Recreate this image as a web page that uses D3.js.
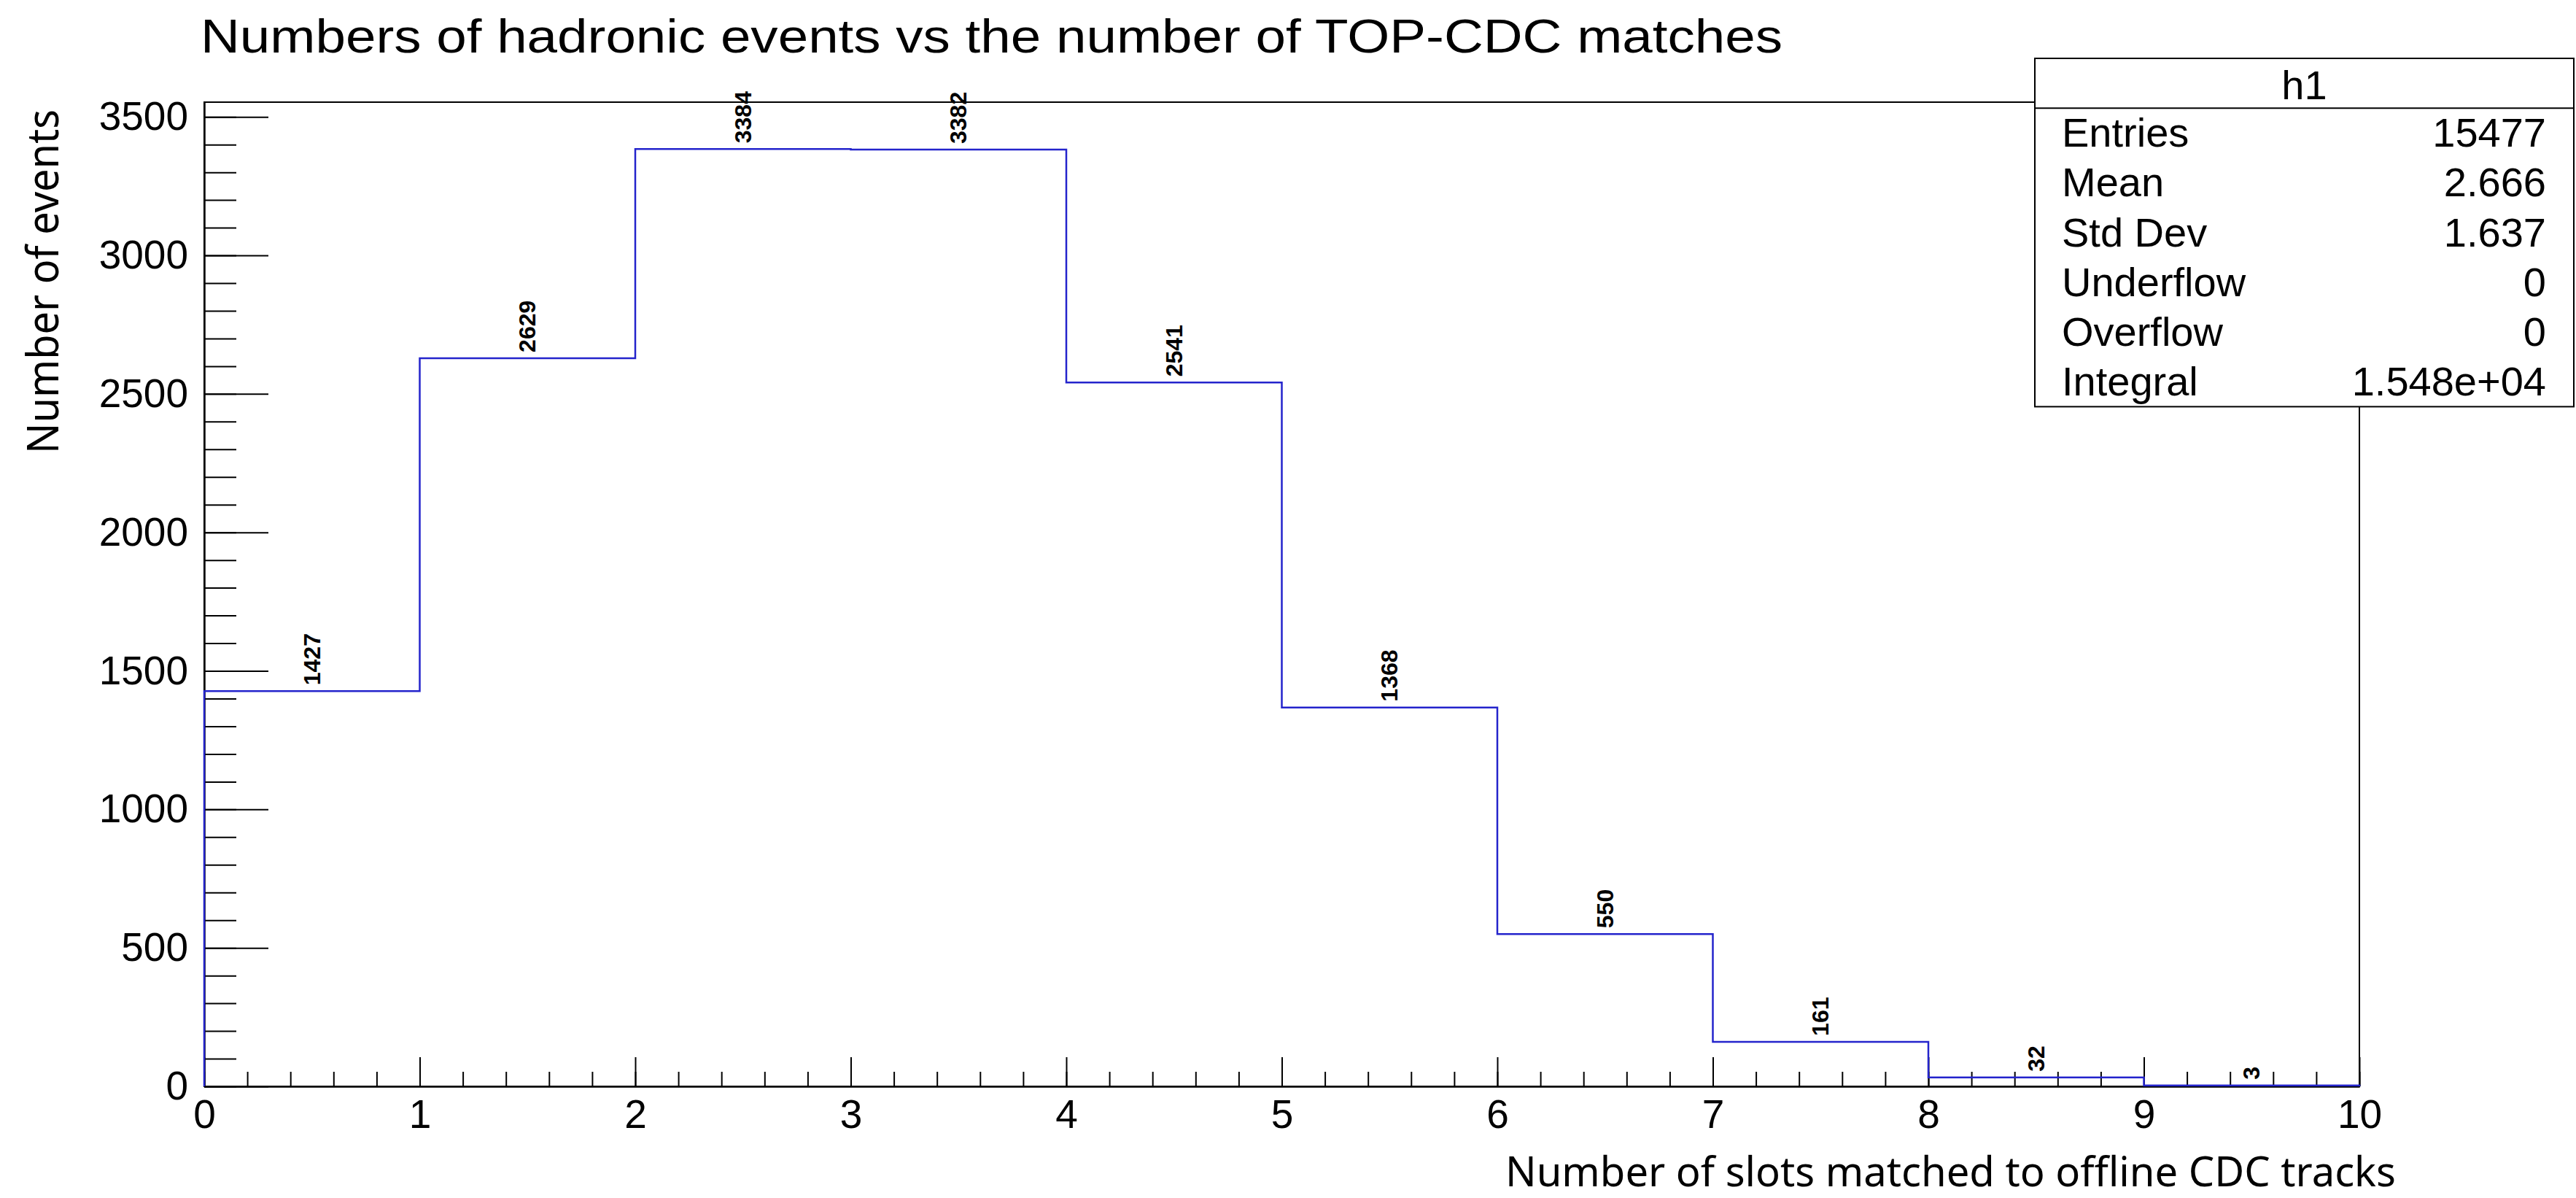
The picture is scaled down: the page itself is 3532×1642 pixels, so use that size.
<!DOCTYPE html>
<html>
<head>
<meta charset="utf-8">
<script src="https://cdn.jsdelivr.net/npm/d3@7"></script>
<style>
  body { margin: 0; background: #fff; }
  svg { display: block; }
</style>
</head>
<body>
<svg id="h1-canvas" width="3532" height="1642"></svg>
<script>
// bin edges are 0..10, one bin per number of matched slots
const binLow = [0, 1, 2, 3, 4, 5, 6, 7, 8, 9];
const binCounts = [1427, 2629, 3384, 3382, 2541, 1368, 550, 161, 32, 3];
const xMajorTicks = [0, 1, 2, 3, 4, 5, 6, 7, 8, 9, 10];
const yMajorTicks = [0, 500, 1000, 1500, 2000, 2500, 3000, 3500];
const statNames = ['Entries', 'Mean', 'Std Dev', 'Underflow', 'Overflow', 'Integral'];
const statValues = ['15477', '2.666', '1.637', '0', '0', '1.548e+04'];

const rootFont = '"Liberation Sans", Arial, Helvetica, sans-serif';
const titleFont = '"Noto Sans", "Open Sans", sans-serif';

var svg = d3.select('#h1-canvas');

// frame is x 280..3235, y 140..1489 ; y max is 1.05 * highest bin like ROOT does
var x = d3.scaleLinear().domain([0, 10]).range([280, 3235]);
var y = d3.scaleLinear().domain([0, d3.max(binCounts) * 1.05]).range([1489, 140]);

// title
svg.append('text')
    .attr('x', 275)
    .attr('y', 72)
    .attr('textLength', 2169)
    .attr('lengthAdjust', 'spacingAndGlyphs')
    .style('font', '65px ' + rootFont)
    .text('Numbers of hadronic events vs the number of TOP-CDC matches');

// frame
svg.append('rect')
    .attr('x', x(0)).attr('y', y.range()[1])
    .attr('width', x(10) - x(0)).attr('height', y(0) - y.range()[1])
    .attr('fill', 'none').attr('stroke', '#000').attr('stroke-width', 2);

// minor ticks first, then major ones with labels
var xMinor = d3.range(0, 10.01, 0.2);
var yMinor = d3.range(0, 3501, 100);

svg.append('g')
    .attr('transform', 'translate(0,' + y(0) + ')')
    .call(d3.axisBottom(x).tickValues(xMinor).tickSize(-20).tickSizeOuter(0).tickFormat(''));
svg.append('g')
    .attr('class', 'xaxis')
    .attr('transform', 'translate(0,' + y(0) + ')')
    .call(d3.axisBottom(x).tickValues(xMajorTicks).tickSize(-40).tickSizeOuter(0).tickPadding(18).tickFormat(d3.format('d')));

svg.append('g')
    .attr('transform', 'translate(' + x(0) + ',0)')
    .call(d3.axisLeft(y).tickValues(yMinor).tickSize(-44).tickSizeOuter(0).tickFormat(''));
svg.append('g')
    .attr('class', 'yaxis')
    .attr('transform', 'translate(' + x(0) + ',0)')
    .call(d3.axisLeft(y).tickValues(yMajorTicks).tickSize(-88).tickSizeOuter(0).tickPadding(22).tickFormat(d3.format('d')));

svg.selectAll('.domain, .tick line').attr('stroke', '#000').attr('stroke-width', 2);
svg.selectAll('.xaxis text, .yaxis text')
    .attr('fill', '#000')
    .style('font', '55px ' + rootFont);

// histogram outline
var pts = [[0, 0]];
binLow.forEach(function(lo, i) {
    pts.push([lo, binCounts[i]]);
    pts.push([lo + 1, binCounts[i]]);
});
pts.push([10, 0]);

svg.append('path')
    .attr('d', d3.line().x(function(d) { return x(d[0]); }).y(function(d) { return y(d[1]); })(pts))
    .attr('fill', 'none')
    .attr('stroke', '#2424cc')
    .attr('stroke-width', 2.5);

// bin contents, rotated
svg.selectAll('text.bin')
    .data(binCounts)
    .enter().append('text')
    .attr('class', 'bin')
    .attr('transform', function(d, i) {
        return 'translate(' + x(binLow[i] + 0.5) + ',' + (y(d) - 8) + ') rotate(-90)';
    })
    .attr('dominant-baseline', 'central')
    .style('font', 'bold 32px ' + rootFont)
    .text(function(d) { return d; });

// axis titles
svg.append('text')
    .attr('x', 3285)
    .attr('y', 1626)
    .attr('text-anchor', 'end')
    .attr('textLength', 1221)
    .attr('lengthAdjust', 'spacingAndGlyphs')
    .style('font', '57px ' + titleFont)
    .text('Number of slots matched to offline CDC tracks');

svg.append('text')
    .attr('transform', 'translate(80,622) rotate(-90)')
    .attr('textLength', 472)
    .attr('lengthAdjust', 'spacingAndGlyphs')
    .style('font', '60px ' + titleFont)
    .text('Number of events');

// stats box
var box = { x0: 2790, x1: 3529, y0: 80, row: 68.2 };
var stats = svg.append('g');
stats.append('rect')
    .attr('x', box.x0).attr('y', box.y0)
    .attr('width', box.x1 - box.x0).attr('height', box.row * 7)
    .attr('fill', '#fff').attr('stroke', '#000').attr('stroke-width', 2);
stats.append('line')
    .attr('x1', box.x0).attr('x2', box.x1)
    .attr('y1', box.y0 + box.row).attr('y2', box.y0 + box.row)
    .attr('stroke', '#000').attr('stroke-width', 2);
stats.append('text')
    .attr('x', (box.x0 + box.x1) / 2)
    .attr('y', box.y0 + 56)
    .attr('text-anchor', 'middle')
    .style('font', '56px ' + rootFont)
    .text('h1');

stats.selectAll('text.sname')
    .data(statNames)
    .enter().append('text')
    .attr('class', 'sname')
    .attr('x', 2827)
    .attr('y', function(d, i) { return box.y0 + box.row * (i + 1) + 53; })
    .style('font', '56px ' + rootFont)
    .text(function(d) { return d; });

stats.selectAll('text.sval')
    .data(statValues)
    .enter().append('text')
    .attr('class', 'sval')
    .attr('x', 3491)
    .attr('y', function(d, i) { return box.y0 + box.row * (i + 1) + 53; })
    .attr('text-anchor', 'end')
    .style('font', '56px ' + rootFont)
    .text(function(d) { return d; });
</script>
</body>
</html>
